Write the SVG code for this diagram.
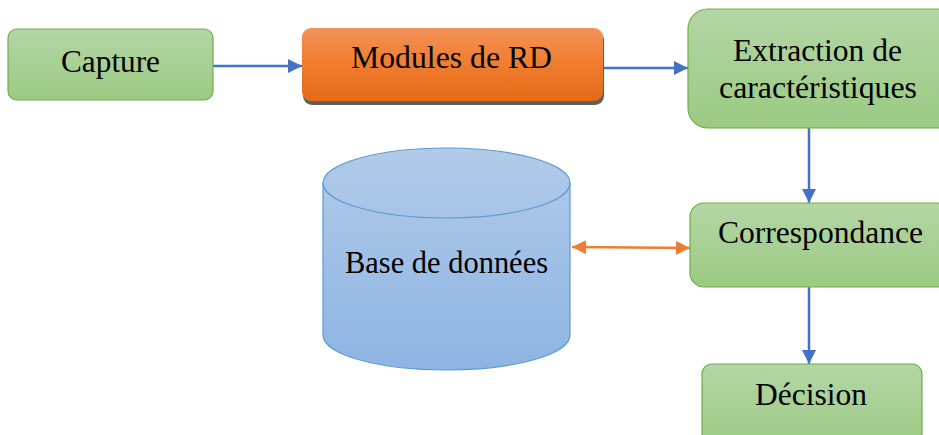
<svg xmlns="http://www.w3.org/2000/svg" width="939" height="435" viewBox="0 0 939 435">
<defs>
<linearGradient id="gGreen" x1="0" y1="0" x2="0" y2="1">
<stop offset="0" stop-color="#b4d6a5"/>
<stop offset="1" stop-color="#9bca83"/>
</linearGradient>
<linearGradient id="gOrange" x1="0" y1="0" x2="0" y2="1">
<stop offset="0" stop-color="#f29259"/>
<stop offset="0.5" stop-color="#f07c2e"/>
<stop offset="1" stop-color="#e56a18"/>
</linearGradient>
<linearGradient id="gBlue" x1="0" y1="0" x2="0" y2="1">
<stop offset="0" stop-color="#b1cbe9"/>
<stop offset="1" stop-color="#8eb4e2"/>
</linearGradient>
<marker id="aBlue" markerWidth="14" markerHeight="14" refX="14" refY="7" orient="auto" markerUnits="userSpaceOnUse" viewBox="0 0 14 14">
<path d="M0,0 L14,7 L0,14 z" fill="#4472c4"/>
</marker>
<marker id="aOrange" markerWidth="14" markerHeight="14" refX="14" refY="7" orient="auto-start-reverse" markerUnits="userSpaceOnUse" viewBox="0 0 14 14">
<path d="M0,0 L14,7 L0,14 z" fill="#ed7d31"/>
</marker>
</defs>
<style>
.box{fill:url(#gGreen);stroke:#70ad47;stroke-width:1.2}
.lbl{font-family:"Liberation Serif","Times New Roman",serif;font-size:32px;fill:#000;text-anchor:middle}
.blue{stroke:#4472c4;stroke-width:2.5;fill:none;marker-end:url(#aBlue)}
.orange{stroke:#ed7d31;stroke-width:2.5;fill:none;marker-start:url(#aOrange);marker-end:url(#aOrange)}
</style>
<rect width="939" height="435" fill="#fff"/>
<g id="connectors">
<line class="blue" x1="213" y1="66" x2="302" y2="66"/>
<line class="blue" x1="603" y1="68" x2="688" y2="68"/>
<line class="blue" x1="809" y1="128" x2="809" y2="203"/>
<line class="orange" x1="572" y1="247" x2="690" y2="248"/>
<line class="blue" x1="809" y1="287" x2="809" y2="364"/>
</g>
<g id="capture">
<rect class="box" x="8" y="29" width="205" height="71" rx="9"/>
<text class="lbl" x="110.5" y="72" textLength="99" lengthAdjust="spacingAndGlyphs">Capture</text>
</g>
<g id="modules">
<rect x="303" y="31" width="301" height="74" rx="9" fill="#5f5f5f"/>
<rect x="302" y="28" width="301" height="73" rx="9" fill="url(#gOrange)"/>
<text class="lbl" x="451.5" y="68" textLength="201" lengthAdjust="spacingAndGlyphs">Modules de RD</text>
</g>
<g id="extraction">
<rect class="box" x="688" y="9" width="270" height="119" rx="20"/>
<text class="lbl" x="817.5" y="61" textLength="169" lengthAdjust="spacingAndGlyphs">Extraction de</text>
<text class="lbl" x="818" y="98" textLength="198" lengthAdjust="spacingAndGlyphs">caractéristiques</text>
</g>
<g id="bd">
<path d="M323,183 L323,335 A123.5,35 0 0 0 570,335 L570,183 A123.5,35 0 0 0 323,183 Z" fill="url(#gBlue)" stroke="#5b9bd5" stroke-width="1.2"/>
<path d="M323,183 A123.5,35 0 0 0 570,183" fill="none" stroke="#5b9bd5" stroke-width="1.2"/>
<text class="lbl" x="446.5" y="273" textLength="203" lengthAdjust="spacingAndGlyphs">Base de données</text>
</g>
<g id="correspondance">
<rect class="box" x="690" y="203" width="270" height="84" rx="14"/>
<text class="lbl" x="820.5" y="243" textLength="205" lengthAdjust="spacingAndGlyphs">Correspondance</text>
</g>
<g id="decision">
<rect class="box" x="702" y="364" width="220" height="85" rx="10"/>
<text class="lbl" x="811" y="405" textLength="112" lengthAdjust="spacingAndGlyphs">Décision</text>
</g>
</svg>
